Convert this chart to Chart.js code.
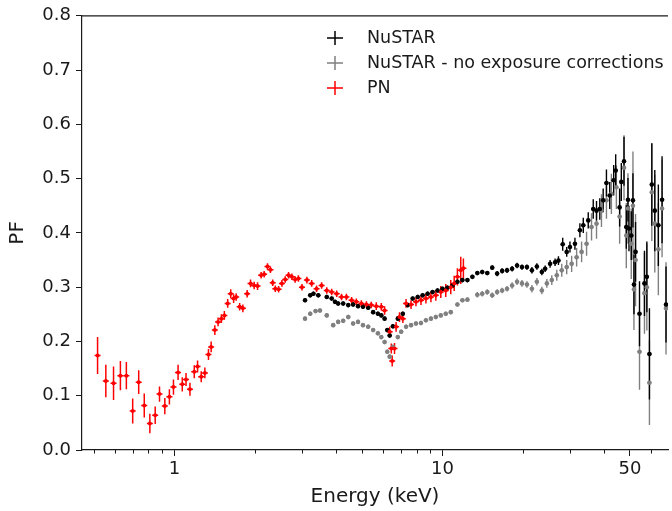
<!DOCTYPE html>
<html>
<head>
<meta charset="utf-8">
<script src="https://cdn.jsdelivr.net/npm/chart.js@4.4.0/dist/chart.umd.min.js"></script>
<style>
  html, body { margin: 0; padding: 0; background: #fff; }
  #wrap { width: 672px; height: 511px; }
</style>
</head>
<body>
<div id="wrap"><canvas id="chart"></canvas></div>
<script>
// axis ticks
const majorTicks = [1, 10, 50];
const minorTicks = [0.5, 0.6, 0.7, 0.8, 0.9, 2, 3, 4, 5, 6, 7, 8, 9, 20, 30, 40, 60];
const yTicks = [0, 0.1, 0.2, 0.3, 0.4, 0.5, 0.6, 0.7, 0.8];

// PN (XMM) - energy keV, pulsed fraction, 1 sigma error
const pnEnergy = [0.517, 0.555, 0.593, 0.629, 0.662, 0.699, 0.736, 0.772, 0.810, 0.848,
  0.880, 0.921, 0.958, 0.992, 1.032, 1.070, 1.105, 1.143, 1.186, 1.220,
  1.259, 1.299, 1.340, 1.371, 1.415, 1.455, 1.497, 1.536, 1.580, 1.622,
  1.663, 1.700, 1.751, 1.800, 1.868, 1.923, 1.984, 2.042, 2.106, 2.161,
  2.224, 2.281, 2.326, 2.379, 2.447, 2.517, 2.590, 2.665, 2.742, 2.820,
  2.90, 2.99, 3.12, 3.25, 3.39, 3.54, 3.70, 3.86, 4.03, 4.20,
  4.38, 4.58, 4.77, 4.98, 5.20, 5.42, 5.66, 5.91, 6.08, 6.35,
  6.44, 6.49, 6.62, 6.71, 6.91, 7.11, 7.31, 7.63, 7.96, 8.31,
  8.67, 9.05, 9.44, 9.85, 10.28, 10.73, 11.05, 11.36, 11.69, 11.96];
const pnPF = [0.174, 0.127, 0.123, 0.137, 0.137, 0.072, 0.125, 0.082, 0.049, 0.064,
  0.103, 0.081, 0.098, 0.116, 0.143, 0.121, 0.130, 0.112, 0.144, 0.154,
  0.135, 0.142, 0.176, 0.190, 0.221, 0.236, 0.242, 0.248, 0.270, 0.288,
  0.279, 0.282, 0.264, 0.261, 0.288, 0.307, 0.303, 0.302, 0.322, 0.324,
  0.338, 0.332, 0.308, 0.297, 0.296, 0.307, 0.314, 0.322, 0.319, 0.314,
  0.316, 0.300, 0.313, 0.307, 0.297, 0.303, 0.294, 0.291, 0.288, 0.282,
  0.282, 0.276, 0.273, 0.270, 0.268, 0.267, 0.265, 0.264, 0.257, 0.218,
  0.187, 0.164, 0.187, 0.227, 0.245, 0.242, 0.270, 0.268, 0.273, 0.276,
  0.279, 0.282, 0.285, 0.291, 0.294, 0.300, 0.307, 0.319, 0.331, 0.335];
const pnErr = [0.034, 0.030, 0.031, 0.027, 0.025, 0.023, 0.022, 0.022, 0.018, 0.016,
  0.014, 0.015, 0.014, 0.014, 0.014, 0.013, 0.012, 0.012, 0.012, 0.011,
  0.010, 0.010, 0.010, 0.010, 0.009, 0.008, 0.008, 0.008, 0.008, 0.008,
  0.008, 0.007, 0.007, 0.007, 0.007, 0.007, 0.007, 0.007, 0.006, 0.006,
  0.006, 0.006, 0.006, 0.006, 0.006, 0.006, 0.006, 0.006, 0.006, 0.006,
  0.006, 0.006, 0.006, 0.006, 0.006, 0.006, 0.006, 0.006, 0.006, 0.006,
  0.006, 0.006, 0.006, 0.006, 0.006, 0.006, 0.007, 0.007, 0.008, 0.009,
  0.009, 0.010, 0.010, 0.009, 0.009, 0.008, 0.008, 0.008, 0.008, 0.009,
  0.009, 0.010, 0.010, 0.011, 0.012, 0.013, 0.014, 0.016, 0.025, 0.018];

// NuSTAR (exposure corrected)
const nuEnergy = [3.07, 3.21, 3.30, 3.44, 3.70, 3.86, 3.97, 4.08, 4.26, 4.45,
  4.64, 4.84, 5.05, 5.28, 5.51, 5.74, 5.91, 6.08, 6.22, 6.35,
  6.53, 6.81, 7.11, 7.42, 7.74, 8.08, 8.43, 8.80, 9.18, 9.58,
  10.0, 10.43, 10.89, 11.36, 11.86, 12.38, 12.92, 13.48, 14.06, 14.68,
  15.32, 15.98, 16.68, 17.40, 18.17, 18.96, 19.78, 20.64, 21.54, 22.48,
  23.46, 24.13, 25.18, 26.28, 27.05, 28.06, 29.04, 29.86, 31.17, 32.52,
  33.48, 34.94, 36.47, 37.51, 38.58, 39.72, 40.85, 42.02, 43.47, 44.22,
  45.75, 46.42, 47.50, 48.44, 49.14, 49.57, 50.55, 51.29, 51.73, 52.44,
  54.26, 56.62, 57.79, 59.09, 60.31, 61.87, 63.79, 65.86, 68.13];
const nuPF = [0.276, 0.285, 0.288, 0.285, 0.282, 0.279, 0.273, 0.270, 0.270, 0.267,
  0.268, 0.265, 0.264, 0.262, 0.254, 0.251, 0.248, 0.242, 0.221, 0.211,
  0.228, 0.242, 0.251, 0.267, 0.279, 0.282, 0.285, 0.288, 0.291, 0.294,
  0.297, 0.299, 0.303, 0.310, 0.313, 0.313, 0.319, 0.326, 0.328, 0.326,
  0.336, 0.325, 0.330, 0.331, 0.334, 0.340, 0.337, 0.337, 0.331, 0.338,
  0.328, 0.334, 0.343, 0.346, 0.349, 0.379, 0.365, 0.374, 0.380, 0.405,
  0.414, 0.423, 0.444, 0.441, 0.444, 0.460, 0.492, 0.469, 0.497, 0.515,
  0.447, 0.494, 0.532, 0.411, 0.461, 0.408, 0.395, 0.460, 0.305, 0.365,
  0.251, 0.307, 0.319, 0.177, 0.489, 0.441, 0.414, 0.461, 0.268];
const nuErr = [0.004, 0.004, 0.004, 0.004, 0.004, 0.004, 0.004, 0.004, 0.004, 0.004,
  0.004, 0.004, 0.004, 0.004, 0.004, 0.004, 0.004, 0.004, 0.004, 0.004,
  0.004, 0.004, 0.004, 0.004, 0.004, 0.004, 0.004, 0.004, 0.004, 0.004,
  0.004, 0.004, 0.004, 0.004, 0.004, 0.004, 0.004, 0.004, 0.004, 0.004,
  0.004, 0.005, 0.005, 0.005, 0.005, 0.005, 0.005, 0.005, 0.006, 0.006,
  0.006, 0.006, 0.007, 0.007, 0.008, 0.012, 0.009, 0.010, 0.011, 0.013,
  0.014, 0.015, 0.018, 0.018, 0.020, 0.022, 0.025, 0.025, 0.028, 0.030,
  0.035, 0.035, 0.045, 0.040, 0.040, 0.042, 0.045, 0.050, 0.055, 0.055,
  0.060, 0.060, 0.065, 0.084, 0.076, 0.075, 0.075, 0.080, 0.070];

// NuSTAR without exposure corrections
const rawEnergy = [3.07, 3.21, 3.36, 3.49, 3.70, 3.91, 4.08, 4.26, 4.45, 4.64,
  4.84, 5.05, 5.28, 5.51, 5.74, 5.91, 6.08, 6.22, 6.35, 6.53,
  6.81, 7.01, 7.31, 7.63, 7.96, 8.31, 8.67, 9.05, 9.44, 9.85,
  10.28, 10.73, 11.36, 11.86, 12.38, 13.48, 14.06, 14.68, 15.32, 15.98,
  16.68, 17.40, 18.17, 18.96, 19.78, 20.64, 21.54, 22.48, 23.46, 24.49,
  25.55, 26.67, 27.83, 29.04, 30.30, 31.62, 33.00, 34.44, 35.94, 37.51,
  39.14, 40.85, 42.62, 44.48, 45.75, 47.50, 48.44, 49.14, 50.55, 51.29,
  51.73, 52.44, 54.26, 56.62, 57.79, 59.09, 60.31, 61.87, 63.79, 65.86, 68.13];
const rawPF = [0.242, 0.251, 0.256, 0.257, 0.248, 0.230, 0.236, 0.238, 0.245, 0.233,
  0.236, 0.230, 0.227, 0.221, 0.215, 0.208, 0.199, 0.181, 0.172, 0.190,
  0.208, 0.218, 0.227, 0.230, 0.233, 0.234, 0.239, 0.242, 0.245, 0.248,
  0.251, 0.254, 0.268, 0.276, 0.277, 0.286, 0.288, 0.291, 0.285, 0.291,
  0.294, 0.297, 0.303, 0.310, 0.307, 0.305, 0.297, 0.310, 0.294, 0.307,
  0.313, 0.322, 0.331, 0.337, 0.343, 0.355, 0.365, 0.380, 0.411, 0.417,
  0.441, 0.460, 0.472, 0.484, 0.430, 0.520, 0.395, 0.445, 0.380, 0.450,
  0.296, 0.350, 0.181, 0.289, 0.300, 0.124, 0.475, 0.417, 0.370, 0.445, 0.261];
const rawErr = [0.004, 0.004, 0.004, 0.004, 0.004, 0.004, 0.004, 0.004, 0.004, 0.004,
  0.004, 0.004, 0.004, 0.004, 0.004, 0.004, 0.004, 0.004, 0.004, 0.004,
  0.004, 0.004, 0.004, 0.004, 0.004, 0.004, 0.004, 0.004, 0.004, 0.004,
  0.004, 0.004, 0.004, 0.004, 0.004, 0.005, 0.005, 0.005, 0.005, 0.005,
  0.005, 0.005, 0.006, 0.006, 0.006, 0.006, 0.007, 0.007, 0.007, 0.008,
  0.009, 0.010, 0.012, 0.013, 0.015, 0.017, 0.019, 0.022, 0.025, 0.028,
  0.030, 0.034, 0.037, 0.040, 0.050, 0.060, 0.060, 0.065, 0.065, 0.100,
  0.075, 0.085, 0.070, 0.075, 0.080, 0.078, 0.090, 0.090, 0.085, 0.090, 0.085];

function toPoints(xs, ys) {
  return xs.map((x, i) => ({ x: x, y: ys[i] }));
}

const FONT = "'DejaVu Sans', 'Liberation Sans', sans-serif";
const INK = '#1a1a1a';

// error bars, drawn under the markers
const errorBars = {
  id: 'errorBars',
  beforeDatasetsDraw(chart) {
    const ctx = chart.ctx;
    const area = chart.chartArea;
    const xs = chart.scales.x, ys = chart.scales.y;
    ctx.save();
    ctx.beginPath();
    ctx.rect(area.left, area.top, area.right - area.left, area.bottom - area.top);
    ctx.clip();
    [1, 2, 0].forEach(di => {
      const ds = chart.data.datasets[di];
      ctx.strokeStyle = ds.borderColor;
      ctx.lineWidth = ds.barWidth;
      ds.data.forEach((p, j) => {
        const e = ds.yErr[j];
        const px = xs.getPixelForValue(p.x);
        const py = ys.getPixelForValue(p.y);
        ctx.beginPath();
        ctx.moveTo(px, ys.getPixelForValue(p.y - e));
        ctx.lineTo(px, ys.getPixelForValue(p.y + e));
        ctx.moveTo(px - ds.capHalf, py);
        ctx.lineTo(px + ds.capHalf, py);
        ctx.stroke();
      });
    });
    ctx.restore();
  }
};

// frame, minor ticks and legend
const decor = {
  id: 'decor',
  afterDraw(chart) {
    const ctx = chart.ctx;
    const area = chart.chartArea;
    const xs = chart.scales.x;
    ctx.save();
    ctx.strokeStyle = INK;
    ctx.lineWidth = 1.2;
    ctx.beginPath();
    ctx.moveTo(area.left, area.top);
    ctx.lineTo(area.right, area.top);
    ctx.stroke();
    ctx.lineWidth = 1;
    minorTicks.forEach(v => {
      const px = Math.round(xs.getPixelForValue(v)) + 0.5;
      ctx.beginPath();
      ctx.moveTo(px, area.bottom);
      ctx.lineTo(px, area.bottom + 3.5);
      ctx.stroke();
    });

    const rows = [0, 2, 1];
    ctx.font = '17.5px ' + FONT;
    ctx.textBaseline = 'middle';
    ctx.textAlign = 'left';
    rows.forEach((di, k) => {
      const ds = chart.data.datasets[di];
      const cy = 38 + k * 25;
      const cx = 335;
      ctx.strokeStyle = ds.borderColor;
      ctx.lineWidth = 1.5;
      ctx.beginPath();
      ctx.moveTo(cx - 8, cy);
      ctx.lineTo(cx + 8, cy);
      ctx.moveTo(cx, cy - 7);
      ctx.lineTo(cx, cy + 7);
      ctx.stroke();
      ctx.fillStyle = INK;
      ctx.fillText(ds.label, 367, cy);
    });
    ctx.restore();
  }
};

new Chart(document.getElementById('chart'), {
  type: 'scatter',
  data: {
    datasets: [
      {
        label: 'NuSTAR',
        data: toPoints(nuEnergy, nuPF),
        yErr: nuErr,
        borderColor: '#000000',
        backgroundColor: '#000000',
        pointRadius: 2.3,
        pointBorderWidth: 0,
        barWidth: 1.4,
        capHalf: 2,
        order: 1
      },
      {
        label: 'PN',
        data: toPoints(pnEnergy, pnPF),
        yErr: pnErr,
        borderColor: '#ff0000',
        backgroundColor: '#ff0000',
        pointRadius: 2,
        pointBorderWidth: 0,
        barWidth: 1.5,
        capHalf: 3,
        order: 0
      },
      {
        label: 'NuSTAR - no exposure corrections',
        data: toPoints(rawEnergy, rawPF),
        yErr: rawErr,
        borderColor: '#808080',
        backgroundColor: '#808080',
        pointRadius: 2.3,
        pointBorderWidth: 0,
        barWidth: 1.4,
        capHalf: 2,
        order: 2
      }
    ]
  },
  options: {
    responsive: true,
    maintainAspectRatio: false,
    animation: false,
    devicePixelRatio: 1,
    layout: { padding: { top: 15, right: 0, left: 0, bottom: 0 } },
    plugins: {
      legend: { display: false },
      tooltip: { enabled: false }
    },
    scales: {
      x: {
        type: 'logarithmic',
        min: 0.4523,
        max: 69.3,
        afterBuildTicks: s => { s.ticks = majorTicks.map(v => ({ value: v, major: true })); },
        afterFit: s => { s.height = 61; },
        ticks: {
          autoSkip: false,
          maxRotation: 0,
          padding: 3,
          color: INK,
          font: { family: FONT, size: 18 },
          callback: v => String(v)
        },
        grid: { drawOnChartArea: false, tickLength: 6, tickColor: INK, tickWidth: 1 },
        border: { display: true, color: INK, width: 1.2 },
        title: {
          display: true,
          text: 'Energy (keV)',
          color: INK,
          font: { family: FONT, size: 20 },
          padding: { top: 0, bottom: 2 }
        }
      },
      y: {
        min: 0,
        max: 0.8,
        afterBuildTicks: s => { s.ticks = yTicks.map(v => ({ value: v })); },
        afterFit: s => { s.width = 82; },
        ticks: {
          padding: 5,
          color: INK,
          font: { family: FONT, size: 18 },
          callback: v => v.toFixed(1)
        },
        grid: { drawOnChartArea: false, tickLength: 6, tickColor: INK, tickWidth: 1 },
        border: { display: true, color: INK, width: 1.2 },
        title: {
          display: true,
          text: 'PF',
          color: INK,
          font: { family: FONT, size: 20 },
          padding: { top: 6, bottom: 0 }
        }
      }
    }
  },
  plugins: [errorBars, decor]
});
</script>
</body>
</html>
